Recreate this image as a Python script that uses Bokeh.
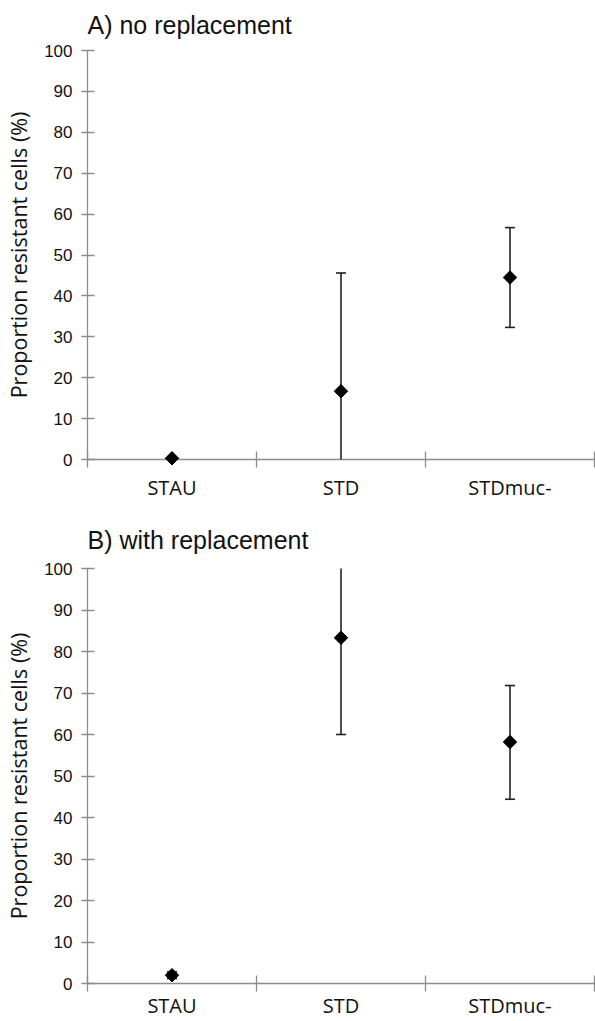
import numpy as np
from bokeh.plotting import figure
from bokeh.layouts import column
from bokeh.models import FixedTicker, Range1d
from bokeh.embed import file_html
from bokeh.resources import INLINE

categories = ["STAU", "STD", "STDmuc-"]
y_ticks = [0, 10, 20, 30, 40, 50, 60, 70, 80, 90, 100]
y_label = "Proportion resistant cells (%)"

a_title = "A) no replacement"
a_mean = [0.3, 16.7, 44.5]
a_lower = [0.3, 0.0, 32.3]
a_upper = [0.3, 45.6, 56.7]

b_title = "B) with replacement"
b_mean = [2.0, 83.3, 58.2]
b_lower = [1.2, 60.0, 44.4]
b_upper = [2.8, 100.0, 71.8]

AXIS_COL = "#8c8c8c"


def make_panel(title, mean, lower, upper, height, border_top, border_bottom,
               xlabel_standoff, title_standoff):
    n = len(categories)
    xs = [i + 0.5 for i in range(n)]
    p = figure(width=595, height=height, output_backend="svg", toolbar_location=None,
               x_range=Range1d(0, n), y_range=Range1d(y_ticks[0], y_ticks[-1]),
               min_border_left=87, min_border_right=1,
               min_border_top=border_top, min_border_bottom=border_bottom,
               title=title)
    p.outline_line_color = None
    p.grid.visible = False
    p.background_fill_color = "white"
    p.border_fill_color = "white"

    p.title.text_font = "Liberation Sans"
    p.title.text_font_size = "25px"
    p.title.text_font_style = "normal"
    p.title.text_color = "#111111"
    p.title.align = "left"
    p.title.standoff = title_standoff
    p.title.vertical_align = "top"

    # x axis
    xa = p.xaxis[0]
    xa.ticker = FixedTicker(ticks=xs, minor_ticks=list(range(n + 1)))
    xa.major_label_overrides = {x: c for x, c in zip(xs, categories)}
    xa.axis_line_color = AXIS_COL
    xa.axis_line_width = 1.3
    xa.major_tick_in = 0
    xa.major_tick_out = 0
    xa.minor_tick_in = 8
    xa.minor_tick_out = 8
    xa.minor_tick_line_color = AXIS_COL
    xa.minor_tick_line_width = 1.3
    xa.major_label_text_font = "Open Sans"
    xa.major_label_text_font_size = "20px"
    xa.major_label_text_color = "#111111"
    xa.major_label_standoff = xlabel_standoff

    # y axis
    ya = p.yaxis[0]
    ya.ticker = FixedTicker(ticks=y_ticks, minor_ticks=[])
    ya.axis_line_color = AXIS_COL
    ya.axis_line_width = 1.3
    ya.major_tick_line_color = AXIS_COL
    ya.major_tick_line_width = 1.3
    ya.major_tick_in = 7
    ya.major_tick_out = 6
    ya.major_label_text_font = "Liberation Sans"
    ya.major_label_text_font_size = "17px"
    ya.major_label_text_color = "#111111"
    ya.major_label_standoff = 9
    ya.axis_label = y_label
    ya.axis_label_text_font = "Open Sans"
    ya.axis_label_text_font_size = "21.5px"
    ya.axis_label_text_font_style = "normal"
    ya.axis_label_text_color = "#111111"
    ya.axis_label_standoff = 8

    # error bars
    p.segment(x0=xs, y0=lower, x1=xs, y1=upper, line_color="#222222",
              line_width=1.6, level="overlay")
    lo, hi = y_ticks[0], y_ticks[-1]
    cap_x, cap_y = [], []
    for x, l, u in zip(xs, lower, upper):
        if u > l:
            for v in (l, u):
                if lo < v < hi:
                    cap_x.append(x)
                    cap_y.append(v)
    p.scatter(cap_x, cap_y, marker="dash", size=10, line_color="#222222",
              line_width=1.6, level="overlay")
    # means
    p.scatter(xs, mean, marker="square", angle=np.pi / 4, size=9.5,
              fill_color="black", line_color="black", level="overlay")
    return p


pa = make_panel(a_title, a_mean, a_lower, a_upper, 503, 50, 44, 6, 20)
pb = make_panel(b_title, b_mean, b_lower, b_upper, 518, 65, 38, 0, 25)

layout = column(pa, pb, spacing=0)
open("out.html", "w").write(file_html(layout, INLINE))
